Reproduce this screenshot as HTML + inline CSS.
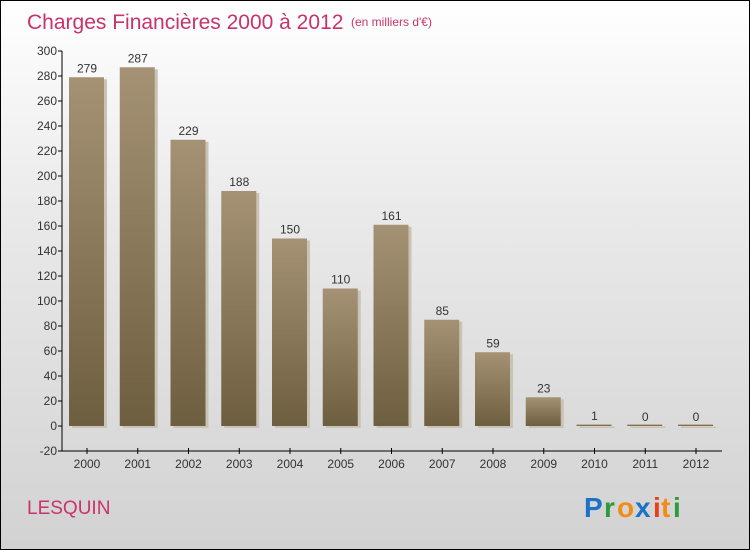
<!DOCTYPE html>
<html><head><meta charset="utf-8"><style>
body{margin:0}
#c{width:750px;height:550px;position:relative;overflow:hidden;border:1px solid #000;box-sizing:border-box;background:linear-gradient(#ffffff,#e9e9e9 40%,#d2d2d2);font-family:"Liberation Sans",sans-serif}
</style></head><body>
<div id="c">
<svg width="750" height="550" style="position:absolute;left:0;top:0" id="svg">
<defs>
<linearGradient id="bg" x1="0" y1="0" x2="0" y2="1"><stop offset="0" stop-color="#a59274"/><stop offset="1" stop-color="#6e5e40"/></linearGradient>
</defs>
<text x="26" y="28" font-size="21" fill="#c8336a">Charges Financières 2000 à 2012</text>
<text x="350" y="25" font-size="12" fill="#c8336a">(en milliers d'€)</text>
<text x="26" y="513" font-size="19" fill="#c8336a">LESQUIN</text>
<g font-size="28" font-weight="bold" font-family="Liberation Sans,sans-serif">
<text x="583" y="516" fill="#1b72c8">P</text><text x="603" y="516" fill="#2f9a3a">r</text><text x="616" y="516" fill="#f28c16">o</text><text x="634" y="516" fill="#1b72c8">x</text><text x="652" y="516" fill="#e8401a">i</text><text x="660" y="516" fill="#f28c16">t</text><text x="672" y="516" fill="#2f9a3a">i</text>
</g>
<g id="plot"></g>
</svg>
</div>
<script>
const years=["2000","2001","2002","2003","2004","2005","2006","2007","2008","2009","2010","2011","2012"];
const values=[279,287,229,188,150,110,161,85,59,23,1,0,0];
const yTicks=[-20,0,20,40,60,80,100,120,140,160,180,200,220,240,260,280,300];
const NS="http://www.w3.org/2000/svg";
const g=document.getElementById('plot');
function y(v){return 425-v*1.25;}
function x(i){return 86+i*50.75;}
function mk(t,a){const e=document.createElementNS(NS,t);for(const k in a)e.setAttribute(k,a[k]);g.appendChild(e);return e;}
let ax=mk('line',{x1:61,y1:y(300),x2:61,y2:y(-20),stroke:'#000'});


let bx=mk('line',{x1:61,y1:y(-20),x2:721,y2:y(-20),stroke:'#000'});


yTicks.forEach(v=>{
 let l=mk('line',{x1:57,x2:61,y1:y(v),y2:y(v),stroke:'#000'});
 
 
 let t=mk('text',{x:56,y:y(v)+4,'font-size':12,'text-anchor':'end',fill:'#333'});
 t.textContent=v;
 
 
});
years.forEach((yr,i)=>{
 const cx=x(i),v=values[i];
 let tk=mk('line',{x1:cx,x2:cx,y1:y(-20)-3,y2:y(-20)+3,stroke:'#000'});
 
 
 let t=mk('text',{x:cx,y:467,'font-size':12,'text-anchor':'middle',fill:'#333'});
 t.textContent=yr;
 
 
 const top=y(v),h=Math.max(y(0)-top,1.5);
 let sh=mk('rect',{x:cx-17+2,y:y(0)-h+2,width:35,height:h,fill:'#c9c3b6'});
 
 
 let b=mk('rect',{x:cx-18,y:y(0)-h,width:35,height:h,fill:'url(#bg)'});
 
 
 let vl=mk('text',{x:cx,y:top-5,'font-size':12,'text-anchor':'middle',fill:'#333'});
 vl.textContent=v;
 
 
});
</script>
</body></html>
